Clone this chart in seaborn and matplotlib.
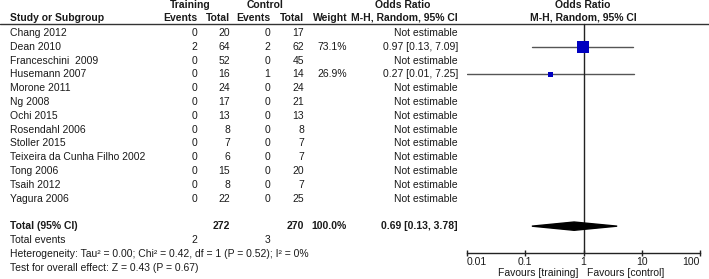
import numpy as np
import pandas as pd
import matplotlib
matplotlib.use("Agg")
import matplotlib.pyplot as plt
import matplotlib.transforms as mtransforms
from matplotlib.patches import Polygon
import seaborn as sns

# DATA
# ----
studies = ["Chang 2012", "Dean 2010", "Franceschini  2009", "Husemann 2007", "Morone 2011",
           "Ng 2008", "Ochi 2015", "Rosendahl 2006", "Stoller 2015",
           "Teixeira da Cunha Filho 2002", "Tong 2006", "Tsaih 2012", "Yagura 2006"]
train_events = [0, 2, 0, 0, 0, 0, 0, 0, 0, 0, 0, 0, 0]
train_total = [20, 64, 52, 16, 24, 17, 13, 8, 7, 6, 15, 8, 22]
ctrl_events = [0, 2, 0, 1, 0, 0, 0, 0, 0, 0, 0, 0, 0]
ctrl_total = [17, 62, 45, 14, 24, 21, 13, 8, 7, 7, 20, 7, 25]
weights = [np.nan, 73.1, np.nan, 26.9, np.nan, np.nan, np.nan, np.nan, np.nan, np.nan, np.nan, np.nan, np.nan]
odds = [np.nan, 0.97, np.nan, 0.27, np.nan, np.nan, np.nan, np.nan, np.nan, np.nan, np.nan, np.nan, np.nan]
ci_low = [np.nan, 0.13, np.nan, 0.01, np.nan, np.nan, np.nan, np.nan, np.nan, np.nan, np.nan, np.nan, np.nan]
ci_high = [np.nan, 7.09, np.nan, 7.25, np.nan, np.nan, np.nan, np.nan, np.nan, np.nan, np.nan, np.nan, np.nan]

total_train, total_ctrl = 272, 270
events_train, events_ctrl = 2, 3
pooled_or, pooled_low, pooled_high = 0.69, 0.13, 3.78
heterogeneity = "Heterogeneity: Tau\u00b2 = 0.00; Chi\u00b2 = 0.42, df = 1 (P = 0.52); I\u00b2 = 0%"
overall_test = "Test for overall effect: Z = 0.43 (P = 0.67)"
x_ticks = [0.01, 0.1, 1, 10, 100]
x_ticklabels = ["0.01", "0.1", "1", "10", "100"]

df = pd.DataFrame({"study": studies, "te": train_events, "tt": train_total,
                   "ce": ctrl_events, "ct": ctrl_total, "w": weights,
                   "or": odds, "lo": ci_low, "hi": ci_high})
df["row"] = np.arange(len(df))

# FIGURE
# ------
sns.set_style("white")
plt.rcParams["font.family"] = ["Liberation Sans", "DejaVu Sans"]
FS = 7.5
TXT = "#1a1a1a"
W, H = 709, 279
AXIS_ROW = 15.95

fig = plt.figure(figsize=(W / 100, H / 100), dpi=100)
ax = fig.add_axes([467 / W, 0, 233 / W, 1])
ax.set_xscale("log")
ax.set_xlim(0.01, 100)
ax.set_ylim(17.83, -2.39)

tr = mtransforms.blended_transform_factory(fig.transFigure, ax.transData)

def col(px, row, s, ha="right", bold=False):
    ax.text(px / W, row, s, transform=tr, ha=ha, va="center", fontsize=FS,
            color=TXT, fontweight="bold" if bold else "normal", clip_on=False)

# headers
col(190, -2.0, "Training", ha="center", bold=True)
col(265, -2.0, "Control", ha="center", bold=True)
col(403, -2.0, "Odds Ratio", ha="center", bold=True)
col(583, -2.0, "Odds Ratio", ha="center", bold=True)
col(10, -1.1, "Study or Subgroup", ha="left", bold=True)
for px, s in [(197, "Events"), (230, "Total"), (270, "Events"), (304, "Total"),
              (348, "Weight"), (458, "M-H, Random, 95% CI")]:
    col(px, -1.1, s, bold=True)
col(583, -1.1, "M-H, Random, 95% CI", ha="center", bold=True)
ax.plot([0, 1], [-0.65, -0.65], transform=tr, color="#333333", lw=1.0, clip_on=False)

# study rows
for _, r in df.iterrows():
    col(10, r.row, r.study, ha="left")
    col(197, r.row, str(r.te))
    col(230, r.row, str(r.tt))
    col(270, r.row, str(r.ce))
    col(304, r.row, str(r.ct))
    if not np.isnan(r.w):
        col(347, r.row, f"{r.w:.1f}%")
        col(458, r.row, f"{r['or']:.2f} [{r.lo:.2f}, {r.hi:.2f}]")
        ax.plot([r.lo, r.hi], [r.row, r.row], color="#555555", lw=1.0)
    else:
        col(458, r.row, "Not estimable")

est = df.dropna(subset=["or"])
sns.scatterplot(data=est, x="or", y="row", size="w", sizes=(14, 80), marker="s",
                color="#0000c0", linewidth=0, legend=False, ax=ax, zorder=3)

# total rows
col(10, 14, "Total (95% CI)", ha="left", bold=True)
col(230, 14, str(total_train), bold=True)
col(304, 14, str(total_ctrl), bold=True)
col(347, 14, "100.0%", bold=True)
col(458, 14, f"{pooled_or:.2f} [{pooled_low:.2f}, {pooled_high:.2f}]", bold=True)
col(10, 15, "Total events", ha="left")
col(197, 15, str(events_train))
col(270, 15, str(events_ctrl))
col(10, 16, heterogeneity, ha="left")
col(10, 17, overall_test, ha="left")

ax.add_patch(Polygon([[pooled_low, 14], [pooled_or, 13.7], [pooled_high, 14], [pooled_or, 14.3]],
                     closed=True, color="black", zorder=3))

# null line
ax.plot([1, 1], [-0.65, AXIS_ROW], color="#222222", lw=1.0, zorder=2)

# axis
for s in ["left", "right", "top"]:
    ax.spines[s].set_visible(False)
ax.spines["bottom"].set_position(("data", AXIS_ROW))
ax.spines["bottom"].set_color("#222222")
ax.spines["bottom"].set_linewidth(1.0)
ax.set_yticks([])
ax.set_xticks(x_ticks)
ax.set_xticklabels(x_ticklabels)
ax.minorticks_off()
ax.tick_params(axis="x", direction="inout", length=5, width=1, color="#222222",
               labelsize=FS, labelcolor=TXT, pad=0.5, bottom=True)
labels = ax.get_xticklabels()
labels[0].set_ha("left")
labels[-1].set_ha("right")
ax.set_xlabel("")
ax.set_ylabel("")
ax.set_facecolor("none")

ax.text(0.82, 17.39, "Favours [training]", ha="right", va="center", fontsize=FS, color=TXT, clip_on=False)
ax.text(1.17, 17.39, "Favours [control]", ha="left", va="center", fontsize=FS, color=TXT, clip_on=False)

fig.savefig("out.png", dpi=100)
